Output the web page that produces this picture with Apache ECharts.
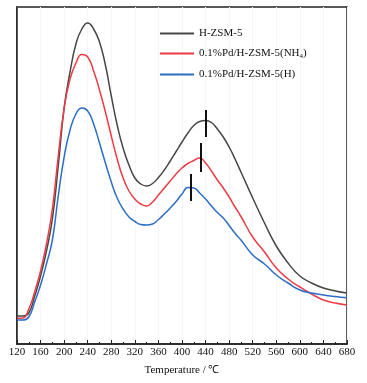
<!DOCTYPE html>
<html>
<head>
<meta charset="utf-8">
<script src="https://cdn.jsdelivr.net/npm/echarts@6/dist/echarts.min.js"></script>
<style>
  html, body { margin: 0; padding: 0; background: #fff; }
  #main { width: 367px; height: 383px; }
</style>
</head>
<body>
<div id="main"></div>
<script>
// 温度 (℃)
const temps = [120, 130, 140, 150, 160, 170, 180, 190, 200, 210, 220, 230, 240, 250, 260, 270, 280, 290, 300,
  310, 320, 330, 340, 350, 360, 370, 380, 390, 400, 410, 420, 430, 440, 450, 460, 470, 480, 490, 500,
  520, 540, 560, 580, 600, 620, 640, 660, 680]

// TPD 信号 (a.u.)
const hzsm = [28, 28, 31, 48, 68, 93, 125, 178, 236, 272, 300, 315, 321, 315, 302, 279, 248, 219, 196,
  179, 166, 160, 158, 160.5, 166.5, 174, 183, 192.5, 202, 211, 218.5, 222.5, 223.5, 221.5, 215, 207, 197, 185, 172,
  146, 121, 98, 81, 68, 61, 56, 53, 51]
const pdNH4 = [25.7, 26, 35, 52, 73, 100, 135, 188, 236, 265, 281, 289.5, 287, 273, 254, 232, 208, 185, 166,
  153, 145, 140, 138, 142, 149, 156, 163, 170, 176, 180.5, 183.5, 186, 181, 173, 164, 156, 147, 137, 127.5,
  107, 92, 76, 65, 57, 50, 44, 41, 39]
const pdH = [24, 24, 27, 42, 59, 80, 104, 148, 187, 214, 230, 236, 233, 220, 201, 181, 162, 146, 135,
  127, 122.5, 119.5, 119, 120, 124.5, 130, 136, 142.5, 150, 156.5, 156, 151, 145, 138, 131.5, 126, 118.5, 110.7, 104,
  89, 80, 69, 61, 54, 51, 49, 47.5, 46.3]

// 峰位标记 [温度, 下端, 上端]
const peakMarks = [[441, 207, 234], [431, 172, 201], [415, 143, 170]]

const names = ['H-ZSM-5', '0.1%Pd/H-ZSM-5(NH4)', '0.1%Pd/H-ZSM-5(H)']
const colors = ['#474747', '#ee3b45', '#2c6ec6']
const font = 'Liberation Serif'

const seriesData = [hzsm, pdNH4, pdH]

const myChart = echarts.init(document.getElementById('main'))

const series = seriesData.map((vals, i) => ({
  name: names[i],
  type: 'line',
  symbol: 'none',
  smooth: 0.5,
  data: temps.map((t, j) => [t, vals[j]]),
  lineStyle: { color: colors[i], width: 1.5 },
  itemStyle: { color: colors[i] },
  markLine: {
    silent: true,
    symbol: 'none',
    label: { show: false },
    lineStyle: { color: '#111', width: 2, type: 'solid' },
    data: [[
      { coord: [peakMarks[i][0], peakMarks[i][1]] },
      { coord: [peakMarks[i][0], peakMarks[i][2]] }
    ]]
  }
}))

const option = {
  animation: false,
  backgroundColor: '#fff',
  grid: {
    left: 17,
    right: 20,
    top: 7,
    bottom: 39,
    show: true,
    borderColor: '#222',
    borderWidth: 1.5
  },
  legend: {
    orient: 'vertical',
    left: 155,
    top: 23,
    icon: 'rect',
    itemWidth: 34,
    itemHeight: 2,
    itemGap: 9,
    data: names,
    textStyle: {
      fontFamily: font,
      fontSize: 11,
      color: '#111',
      rich: {
        sub: { fontFamily: font, fontSize: 7, color: '#111', padding: [6, 0, 0, 0] }
      }
    },
    formatter: name => name.replace('NH4', 'NH{sub|4}')
  },
  xAxis: {
    type: 'value',
    min: 120,
    max: 680,
    interval: 40,
    name: 'Temperature / ℃',
    nameLocation: 'middle',
    nameGap: 21,
    nameTextStyle: { fontFamily: font, fontSize: 11, color: '#111' },
    axisLine: { lineStyle: { color: '#222', width: 1.5 } },
    axisTick: { inside: true, length: 4, lineStyle: { color: '#222' } },
    minorTick: { show: true, splitNumber: 2, length: 2, lineStyle: { color: '#222' } },
    axisLabel: { fontFamily: font, fontSize: 11, color: '#111', margin: 3 },
    splitLine: { show: true, lineStyle: { color: '#f6f6f6' } }
  },
  yAxis: {
    type: 'value',
    min: 0,
    max: 337,
    axisLine: { show: true, lineStyle: { color: '#222', width: 1.5 } },
    axisTick: { show: false },
    axisLabel: { show: false },
    splitLine: { show: false }
  },
  series
}

myChart.setOption(option)
</script>
</body>
</html>
